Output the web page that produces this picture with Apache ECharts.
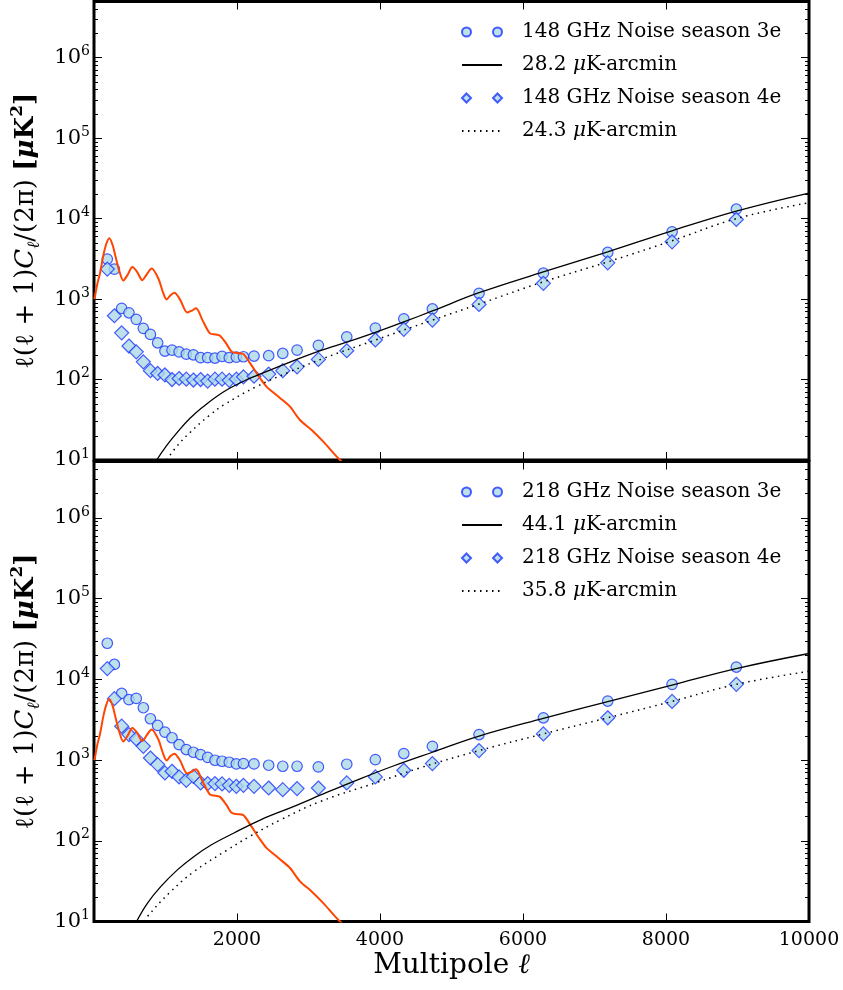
<!DOCTYPE html>
<html><head><meta charset="utf-8">
<script src="https://cdn.jsdelivr.net/npm/echarts@6/dist/echarts.min.js"></script>
<style>html,body{margin:0;padding:0;background:#fff}#chart{width:843px;height:990px}</style>
</head><body><div id="chart"></div>
<script>
// ---------- data ----------
const xTicks = [0, 2000, 4000, 6000, 8000, 10000];
const yDecades = [1, 2, 3, 4, 5, 6];
const minorMantissas = [2, 3, 4, 5, 6, 7, 8, 9];

// multipole bin centres of the noise spectra (same in both panels)
const binEll = [186, 285, 387, 489, 591, 690, 789, 890, 992, 1091, 1190, 1291, 1390, 1491, 1590, 1692, 1791, 1892, 1991, 2090, 2238, 2443, 2640, 2840, 3138, 3535, 3935, 4333, 4733, 5385, 6285, 7185, 8085, 8984];

// 148 GHz
const noise148s3 = [3140, 2360, 766, 676, 560, 433, 364, 286, 226, 232, 221, 207, 203, 187, 187, 185, 194, 187, 190, 192, 196, 198, 211, 232, 266, 340, 436, 569, 755, 1180, 2100, 3800, 6850, 13100];
const noise148s4 = [2360, 621, 381, 261, 221, 166, 129, 119, 114, 100, 103, 101, 98.6, 100, 95.7, 101, 101, 97.7, 101, 108, 110, 117, 129, 144, 178, 228, 310, 421, 548, 859, 1570, 2820, 5150, 9770];
const white148aEll = [877, 1000, 1200, 1343, 1500, 1809, 2100, 2275, 2741, 3207, 3674, 3935, 4333, 4733, 5385, 6284, 7185, 8084, 8983, 10000];
const white148aVal = [10, 14.5, 24, 33, 44, 70, 96, 112, 165, 235, 320, 385, 520, 712, 1200, 2180, 3870, 7050, 12400, 20800];
const white148bEll = [1016, 1150, 1343, 1600, 1809, 2275, 2741, 3207, 3935, 4733, 5385, 6284, 7185, 8084, 8983, 10000];
const white148bVal = [10, 14.5, 22, 35, 48, 82, 125, 183, 310, 548, 867, 1640, 2900, 5300, 10000, 15800];

// 218 GHz
const noise218s3 = [28000, 15300, 6690, 5600, 5810, 4450, 3250, 2690, 2220, 1890, 1550, 1350, 1250, 1170, 1080, 995, 967, 940, 897, 905, 897, 863, 838, 838, 823, 888, 1013, 1205, 1480, 2070, 3340, 5380, 8670, 14200];
const noise218s4 = [13600, 5760, 2630, 2070, 1830, 1480, 1060, 879, 693, 726, 618, 561, 629, 521, 511, 511, 506, 486, 473, 486, 473, 451, 430, 443, 451, 521, 618, 747, 905, 1310, 2110, 3340, 5330, 8670];
const white218aEll = [595, 746, 933, 1166, 1399, 1632, 1958, 2331, 2797, 3263, 3730, 4196, 4733, 5385, 6284, 7185, 8084, 8983, 10000];
const white218aVal = [10, 16.8, 27, 43.6, 64, 88, 125, 182, 267, 400, 590, 850, 1250, 1980, 3280, 5290, 8490, 13600, 20900];
const white218bEll = [706, 746, 1049, 1399, 1865, 2191, 2611, 3170, 3935, 4559, 5385, 6284, 7185, 8084, 8983, 10000];
const white218bVal = [10, 11.5, 22.4, 41.6, 77, 115, 182, 308, 521, 800, 1310, 2110, 3340, 5330, 8670, 12600];

// CMB spectrum (same in both panels)
const cmbEll = [2, 10, 30, 50, 84, 131, 170, 214, 260, 300, 350, 410, 470, 536, 600, 676, 740, 806, 900, 960, 1016, 1070, 1124, 1200, 1305, 1370, 1427, 1520, 1622, 1700, 1762, 1850, 1925, 2000, 2088, 2182, 2322, 2415, 2500, 2601, 2741, 2881, 3044, 3207, 3441, 3700, 4000];
const cmbVal = [1000, 1050, 1300, 1600, 2100, 3500, 4800, 5700, 4700, 3400, 2300, 1700, 2000, 2500, 2200, 1720, 2050, 2400, 1800, 1250, 990, 1120, 1200, 1000, 680, 720, 770, 540, 375, 362, 350, 280, 222, 214, 208, 160, 104, 81, 70, 59, 46, 31.4, 23.6, 16.9, 10, 6.5, 4];

const names = {
  t3: '148 GHz Noise season 3e', tA: '28.2 μK-arcmin', t4: '148 GHz Noise season 4e', tB: '24.3 μK-arcmin',
  b3: '218 GHz Noise season 3e', bA: '44.1 μK-arcmin', b4: '218 GHz Noise season 4e', bB: '35.8 μK-arcmin'
};

// ---------- chart ----------
const F = 'DejaVu Serif';
const Y_MIN = 10, Y_MAX = 5e6;
const LOGMIN = Math.log10(Y_MIN), LOGMAX = Math.log10(Y_MAX);
const majorLogs = yDecades.slice();
const minorLogs = [];
yDecades.forEach(d => minorMantissas.forEach(m => {
  const v = Math.log10(m) + d; if (v < LOGMAX - 1e-9) minorLogs.push(v);
}));

const pts = (xs, ys) => xs.map((x, i) => [x, ys[i]]);

const circlePath = 'path://M0,4.5A4.5,4.5 0 1,1 9,4.5A4.5,4.5 0 1,1 0,4.5ZM31,4.5A4.5,4.5 0 1,1 40,4.5A4.5,4.5 0 1,1 31,4.5Z';
const diamondPath = 'path://M4.5,0L9,4.5L4.5,9L0,4.5ZM35.5,0L40,4.5L35.5,9L31,4.5Z';

const grids = [
  {left: 94, top: 1.5, width: 715, height: 458.5, show: true, borderColor: '#000', borderWidth: 3, backgroundColor: 'transparent'},
  {left: 94, top: 461.5, width: 715, height: 460, show: true, borderColor: '#000', borderWidth: 3, backgroundColor: 'transparent'}
];

const tickStyle = {color: '#000', width: 1};
function xAx(grid, pos, withLabels) {
  const a = {
    type: 'value', gridIndex: grid, position: pos, min: xTicks[0], max: xTicks[xTicks.length - 1], interval: 2000,
    axisLine: {show: false}, splitLine: {show: false},
    axisTick: {show: true, inside: true, length: 8, lineStyle: tickStyle},
    axisLabel: {show: false}
  };
  if (withLabels) {
    a.axisLabel = {show: true, margin: 9, color: '#000', fontFamily: F, fontSize: 19,
      formatter: v => (v === 0 ? '' : String(v))};
    a.name = 'Multipole {i|ℓ}';
    a.nameLocation = 'middle';
    a.nameGap = 30;
    a.nameTextStyle = {color: '#000', fontFamily: F, fontSize: 28, verticalAlign: 'top',
      rich: {i: {fontFamily: F, fontSize: 28, fontStyle: 'italic'}}};
  }
  return a;
}
const yName = '{n|ℓ(ℓ + 1)}{i|C}{sub|ℓ}{n|/(2π) }{b|[}{bi|μ}{b|K}{bsup|2}{b|]}';
function logAx(grid) {
  return {
    type: 'log', logBase: 10, gridIndex: grid, position: 'left', min: Y_MIN, max: Y_MAX,
    axisLine: {show: false}, axisTick: {show: false}, splitLine: {show: false},
    minorTick: {show: false}, minorSplitLine: {show: false},
    axisLabel: {show: true, showMaxLabel: false, margin: 4,
      formatter: v => '{b|10}{s|' + Math.round(Math.log10(v)) + '}',
      rich: {b: {fontFamily: F, fontSize: 21, color: '#000', lineHeight: 26},
             s: {fontFamily: F, fontSize: 14, color: '#000', verticalAlign: 'top', lineHeight: 15}}},
    name: yName, nameLocation: 'middle', nameRotate: 90, nameGap: 39,
    nameTextStyle: {color: '#000', rich: {
      n: {fontFamily: F, fontSize: 26, color: '#000', lineHeight: 34},
      i: {fontFamily: F, fontSize: 26, fontStyle: 'italic', color: '#000', lineHeight: 34},
      sub: {fontFamily: F, fontSize: 17, fontStyle: 'italic', color: '#000', verticalAlign: 'bottom', lineHeight: 19},
      b: {fontFamily: F, fontSize: 26, fontWeight: 'bold', color: '#000', lineHeight: 34},
      bi: {fontFamily: F, fontSize: 26, fontWeight: 'bold', fontStyle: 'italic', color: '#000', lineHeight: 34},
      bsup: {fontFamily: F, fontSize: 17, fontWeight: 'bold', color: '#000', verticalAlign: 'top', lineHeight: 19}
    }}
  };
}
function decoAx(grid, pos, values, len) {
  return {
    type: 'value', gridIndex: grid, position: pos, min: LOGMIN, max: LOGMAX,
    axisLine: {show: false}, splitLine: {show: false},
    axisLabel: {show: false, customValues: values},
    axisTick: {show: true, inside: true, length: len, customValues: values, lineStyle: tickStyle}
  };
}

const xAxis = [xAx(0, 'bottom', false), xAx(0, 'top', false), xAx(1, 'bottom', true), xAx(1, 'top', false)];
const yAxis = [
  logAx(0), decoAx(0, 'left', majorLogs, 8), decoAx(0, 'right', majorLogs, 8), decoAx(0, 'left', minorLogs, 4), decoAx(0, 'right', minorLogs, 4),
  logAx(1), decoAx(1, 'left', majorLogs, 8), decoAx(1, 'right', majorLogs, 8), decoAx(1, 'left', minorLogs, 4), decoAx(1, 'right', minorLogs, 4)
];

const markerStyle = {color: '#add8e6', borderColor: '#1a35ff', borderWidth: 1.2};
function panelSeries(xi, yi, k3, kA, k4, kB, d3, aE, aV, d4, bE, bV, tag) {
  return [
    {name: 'CMB ' + tag, type: 'line', xAxisIndex: xi, yAxisIndex: yi, data: pts(cmbEll, cmbVal),
      symbol: 'none', smooth: 0.3, lineStyle: {color: '#ff4500', width: 2}},
    {name: k3, type: 'scatter', xAxisIndex: xi, yAxisIndex: yi, data: pts(binEll, d3),
      symbol: 'circle', symbolSize: 10.5, itemStyle: markerStyle},
    {name: kA, type: 'line', xAxisIndex: xi, yAxisIndex: yi, data: pts(aE, aV),
      symbol: 'none', smooth: 0.4, lineStyle: {color: '#000', width: 1.3}, itemStyle: {color: '#000'}},
    {name: k4, type: 'scatter', xAxisIndex: xi, yAxisIndex: yi, data: pts(binEll, d4),
      symbol: 'diamond', symbolSize: 14, itemStyle: markerStyle},
    {name: kB, type: 'line', xAxisIndex: xi, yAxisIndex: yi, data: pts(bE, bV),
      symbol: 'none', smooth: 0.4, lineStyle: {color: '#000', width: 1.5, type: [1.5, 4.5]}, itemStyle: {color: '#000'}}
  ];
}
const series = [].concat(
  panelSeries(0, 0, names.t3, names.tA, names.t4, names.tB, noise148s3, white148aEll, white148aVal, noise148s4, white148bEll, white148bVal, 'top'),
  panelSeries(2, 5, names.b3, names.bA, names.b4, names.bB, noise218s3, white218aEll, white218aVal, noise218s4, white218bEll, white218bVal, 'bottom')
);

const noDot = {color: 'rgba(0,0,0,0)', borderColor: 'rgba(0,0,0,0)', borderWidth: 0};
function legendFor(top, k3, kA, k4, kB) {
  return {
    orient: 'vertical', left: 461, top: top, padding: 0, itemGap: 11, itemWidth: 40, itemHeight: 10,
    selectedMode: false,
    data: [{name: k3, icon: circlePath}, {name: kA, itemStyle: noDot}, {name: k4, icon: diamondPath}, {name: kB, itemStyle: noDot}],
    formatter: n => n.replace('μ', '{i|μ}'),
    textStyle: {color: '#000', fontFamily: F, fontSize: 20, lineHeight: 22, padding: [0, 0, 0, 15],
      rich: {i: {fontFamily: F, fontSize: 20, fontStyle: 'italic', color: '#000', lineHeight: 22}}}
  };
}

const chart = echarts.init(document.getElementById('chart'), null, {renderer: 'canvas'});
chart.setOption({
  animation: false,
  backgroundColor: '#fff',
  grid: grids,
  xAxis: xAxis,
  yAxis: yAxis,
  legend: [legendFor(21, names.t3, names.tA, names.t4, names.tB), legendFor(481, names.b3, names.bA, names.b4, names.bB)],
  series: series
});
</script>
</body></html>
